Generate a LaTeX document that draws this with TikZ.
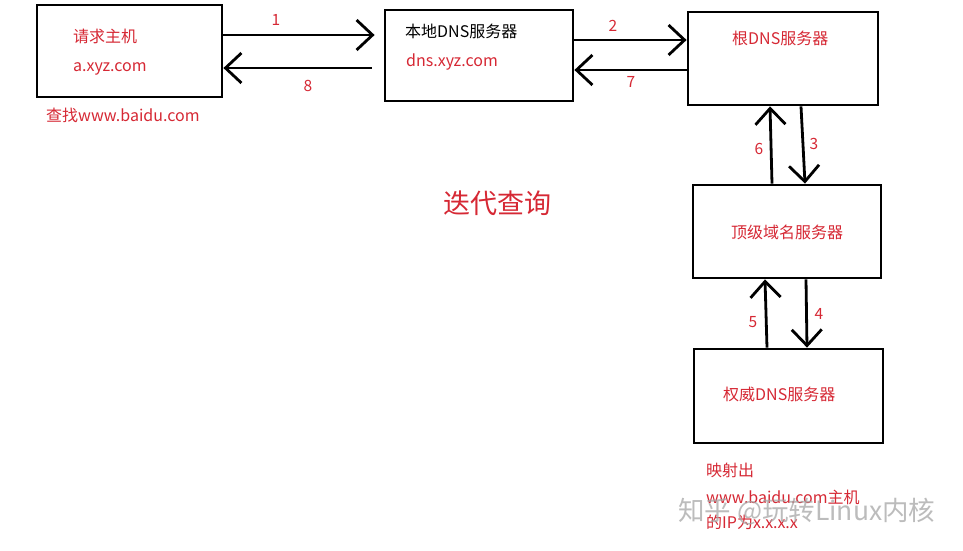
\documentclass[tikz,border=0pt]{standalone}
\usepackage{fontspec}
\setmainfont{Noto Sans CJK SC}
\usetikzlibrary{arrows.meta}
\definecolor{pred}{RGB}{214,40,52}
\begin{document}
\begin{tikzpicture}[x=1pt,y=-1pt,
  box/.style={draw=black,line width=2.8pt,minimum width=#1,inner sep=0pt},
  arr/.style={line width=2.8pt,-{Straight Barb[length=16pt,width=30pt,line width=2.8pt]}},
  rtxt/.style={text=pred,font=\fontsize{16}{18}\selectfont,anchor=west,inner sep=0pt},
  btxt/.style={text=black,font=\fontsize{16}{18}\selectfont,anchor=west,inner sep=0pt},
  num/.style={text=pred,font=\fontsize{15.5}{17}\selectfont,inner sep=0pt}]
\useasboundingbox[fill=white] (0,0) rectangle (963,550);
% boxes
\node[box=185pt,minimum height=92pt] (b1) at (129.5,51) {};
\node[box=188pt,minimum height=91pt] (b2) at (479,55.5) {};
\node[box=190pt,minimum height=93pt] (b3) at (783,58.5) {};
\node[box=188pt,minimum height=93pt] (b4) at (787,231.5) {};
\node[box=189pt,minimum height=94pt] (b5) at (788.5,396) {};
% texts
\node[rtxt] (t1) at (73,36) {请求主机};
\node[rtxt] (t2) at (73,69) {a.xyz.com};
\node[rtxt] (t3) at (46,115) {查找www.baidu.com};
\node[btxt] (t4) at (405,31) {本地DNS服务器};
\node[rtxt] (t5) at (406,62) {dns.xyz.com};
\node[rtxt] (t6) at (732,38) {根DNS服务器};
\node[rtxt] (t7) at (731,232) {顶级域名服务器};
\node[rtxt] (t8) at (723,394) {权威DNS服务器};
\node[rtxt] (t9) at (706,470) {映射出};
\node[rtxt] (t10) at (706,497) {www.baidu.com主机};
\node[rtxt] (t11) at (706,522) {的IP为x.x.x.x};
\node[text=pred,font=\fontsize{27}{30}\selectfont,inner sep=0pt] (title) at (497,203) {迭代查询};
% arrows
\draw[arr,shorten >=9pt] (b1.east |- 0,35) -- (b2.west |- 0,35);
\draw[arr,shorten <=12pt] (b2.west |- 0,68) -- (b1.east |- 0,68);
\draw[arr] (b2.east |- 0,40) -- (b3.west |- 0,40);
\draw[arr] (b3.west |- 0,70) -- (b2.east |- 0,70);
\draw[arr] (b3.south -| 801,0) -- (b4.north -| 805,0);
\draw[arr] (b4.north -| 772,0) -- (b3.south -| 770,0);
\draw[arr] (b4.south -| 806,0) -- (b5.north -| 807,0);
\draw[arr] (b5.north -| 767,0) -- (b4.south -| 765,0);
% numbers
\node[num] (n1) at (276,20) {1};
\node[num] (n8) at (308,86) {8};
\node[num] (n2) at (613,26) {2};
\node[num] (n7) at (631,82) {7};
\node[num] (n3) at (814,144) {3};
\node[num] (n6) at (759,149) {6};
\node[num] (n4) at (819,314) {4};
\node[num] (n5) at (753,322) {5};
% watermark
\node[text=gray!70,opacity=0.75,font=\fontsize{26.5}{29}\selectfont,anchor=west,inner sep=0pt] (wm) at (678,512) {知乎 @玩转Linux内核};
\end{tikzpicture}
\end{document}
